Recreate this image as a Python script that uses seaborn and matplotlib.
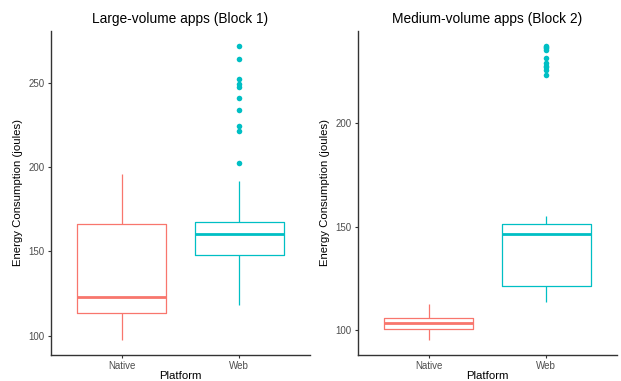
import numpy as np
import pandas as pd
import matplotlib
matplotlib.use("Agg")
import matplotlib.pyplot as plt
import seaborn as sns

platforms = ["Native", "Web"]
palette = {"Native": "#F8766D", "Web": "#00BFC4"}

# Block 1: large-volume apps (joules)
large_native = [97.2, 104.5, 108.0, 110.1, 111.9, 113.2, 115.0, 117.3, 119.2, 121.0,
                122.7, 128.4, 136.9, 147.5, 158.2, 166.3, 171.0, 176.8, 182.4, 189.5, 195.9]
large_web = [118.4, 124.9, 129.6, 133.0, 136.2, 138.5, 140.3, 142.0, 143.4, 144.8, 145.9, 146.8,
             147.6, 148.5, 149.7, 150.9, 152.0, 153.4, 154.6, 155.8, 156.9, 158.0, 159.1, 159.9,
             160.6, 161.1, 161.7, 162.3, 162.8, 163.4, 164.0, 164.6, 165.2, 165.9, 166.5, 167.1,
             167.7, 172.4, 191.8, 202.8, 221.5, 224.7, 233.8, 241.5, 248.0, 249.6, 252.3, 264.4, 272.3]

# Block 2: medium-volume apps (joules)
medium_native = [95.0, 97.1, 98.4, 99.2, 99.9, 100.5, 101.0, 101.6, 102.2, 102.8,
                 103.4, 103.8, 104.2, 104.6, 105.1, 105.6, 106.4, 107.5, 108.9, 110.6, 112.6]
medium_web = [113.4, 114.6, 115.5, 116.4, 117.2, 118.0, 118.7, 119.4, 120.1, 120.8, 121.2,
              121.4, 124.8, 128.5, 132.0, 135.6, 138.4, 140.7, 142.5, 143.9, 145.0,
              145.9, 146.5, 147.0, 147.5, 148.0, 148.5, 149.0, 149.5, 150.0, 150.5,
              151.0, 151.1, 151.2, 154.9,
              223.3, 225.8, 226.9, 227.8, 229.0, 231.6, 235.3, 236.2, 236.9, 237.4]

panels = [
    ("Large-volume apps (Block 1)", large_native, large_web, [100, 150, 200, 250]),
    ("Medium-volume apps (Block 2)", medium_native, medium_web, [100, 150, 200]),
]

sns.set_theme(style="ticks")
plt.rcParams["font.family"] = ["Liberation Sans", "DejaVu Sans"]

fig = plt.figure(figsize=(6.21, 3.81), dpi=100)
positions = [[51 / 621, 1 - 355 / 381, 259 / 621, 324 / 381],
             [358 / 621, 1 - 355 / 381, 259 / 621, 324 / 381]]

for pos, (title, nat, web, yticks) in zip(positions, panels):
    ax = fig.add_axes(pos)
    df = pd.DataFrame({
        "Platform": ["Native"] * len(nat) + ["Web"] * len(web),
        "Energy": nat + web,
    })
    sns.boxplot(data=df, x="Platform", y="Energy", hue="Platform", order=platforms,
                hue_order=platforms, palette=palette, fill=False, width=0.75,
                linewidth=0.9, legend=False, ax=ax,
                medianprops=dict(linewidth=2.0),
                whiskerprops=dict(linewidth=0.9),
                capprops=dict(linewidth=0),
                flierprops=dict(marker="o", markersize=4.0, markeredgewidth=0))
    for ln in ax.lines:
        if ln.get_marker() == "o":
            c = ln.get_markeredgecolor()
            ln.set_markerfacecolor(c)
            ln.set_markeredgecolor(c)
    lo, hi = min(nat + web), max(nat + web)
    pad = 0.05 * (hi - lo)
    ax.set_ylim(lo - pad, hi + pad)
    ax.set_xlim(-0.6, 1.6)
    ax.set_yticks(yticks)
    ax.set_xticks([0, 1])
    ax.set_xticklabels(platforms)
    ax.tick_params(axis="both", labelsize=7, labelcolor="#4D4D4D", color="#333333",
                   length=2.5, width=0.8, pad=2)
    for s in ["left", "bottom"]:
        ax.spines[s].set_color("#333333")
        ax.spines[s].set_linewidth(1.0)
    for s in ["top", "right"]:
        ax.spines[s].set_visible(False)
    ax.set_xlabel("Platform", fontsize=8.2, color="black", labelpad=0)
    ax.set_ylabel("Energy Consumption (joules)", fontsize=8.2, color="black", labelpad=4)
    ax.set_title(title, fontsize=9.9, color="black", pad=6)
    ax.set_facecolor("white")

fig.savefig("out.png", dpi=100, facecolor="white")
